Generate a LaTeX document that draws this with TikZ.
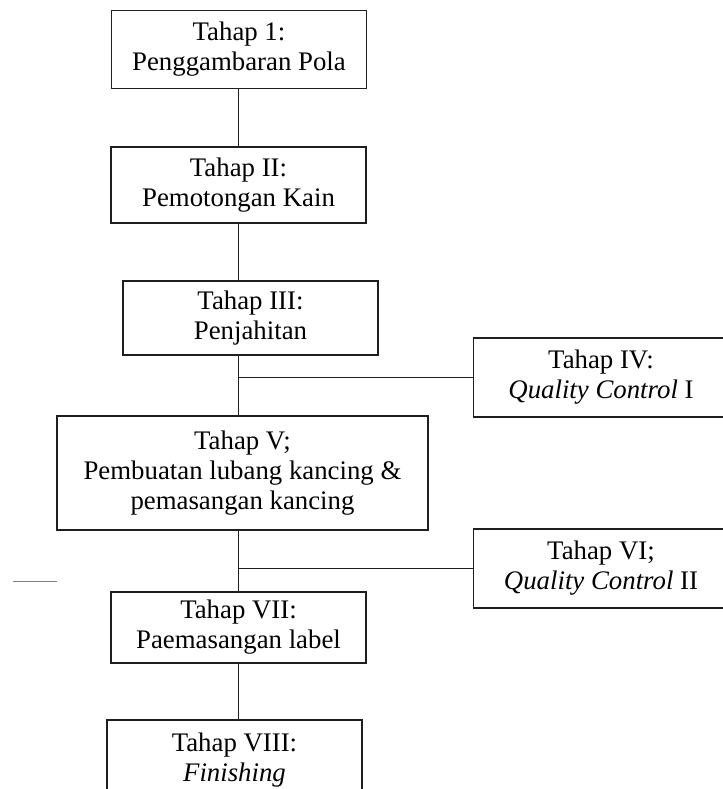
\documentclass[tikz,border=0pt]{standalone}
\usepackage{fontspec}
\setmainfont{Liberation Serif}
\usepackage{tikz}
\usetikzlibrary{positioning,calc}
\definecolor{lineblack}{rgb}{0.12, 0.12, 0.12}
\newcommand{\stagefont}{\fontsize{13.4}{15}\selectfont}

\begin{document}
\begin{tikzpicture}[x=0.5pt,y=-0.5pt,line width=0.55pt,
                stage node/.style={draw=lineblack,rectangle,inner sep=0pt,align=center,
                  minimum width=127.5pt,minimum height=39pt,font=\stagefont,text=black}]
\useasboundingbox (0,0) rectangle (723,789);
\clip (0,0) rectangle (723,789);
%Nodes
    \node[stage node] (T1) at (239,49.5) {Tahap 1:\\Penggambaran Pola};
    \node[stage node, minimum height=38pt] (T2) at (238.5,185) {Tahap II:\\Pemotongan Kain};
    \node[stage node, minimum height=37pt] (T3) at (250.5,318) {Tahap III:\\Penjahitan};
    \node[stage node, minimum height=39.5pt] (T4) at (601,377.5) {Tahap IV:\\\textit{Quality Control} I};
    \node[stage node, minimum width=185.5pt, minimum height=57pt] (T5) at (242.5,473)
        {Tahap V;\\Pembuatan lubang kancing \&\\pemasangan kancing};
    \node[stage node, minimum height=39.5pt] (T6) at (601,568.5) {Tahap VI;\\\textit{Quality Control} II};
    \node[stage node, minimum height=35.5pt] (T7) at (238.5,627.5) {Tahap VII:\\Paemasangan label};
    \node[stage node, minimum height=40pt] (T8) at (234.5,760) {Tahap VIII:\\\textit{Finishing}};

    \coordinate (M1) at (13,581);
    \coordinate (M2) at (57,581);

%Connectors
    \draw[lineblack] (T1.south -| T2.north) -- (T2.north);
    \draw[lineblack] (T2.south) -- (T2.south |- T3.north);
    \draw[lineblack] (T3.south -| T2.south) -- (T5.north -| T2.south);
    \draw[lineblack] (T4.west -| T2.south) -- (T4.west);
    \draw[lineblack] (T5.south -| T7.north) -- (T7.north);
    \draw[lineblack] (T6.west -| T7.north) -- (T6.west);
    \draw[lineblack] (T7.south) -- (T7.south |- T8.north);
    \draw[gray, line width=0.4pt] (M1) -- (M2);
\end{tikzpicture}
\end{document}
